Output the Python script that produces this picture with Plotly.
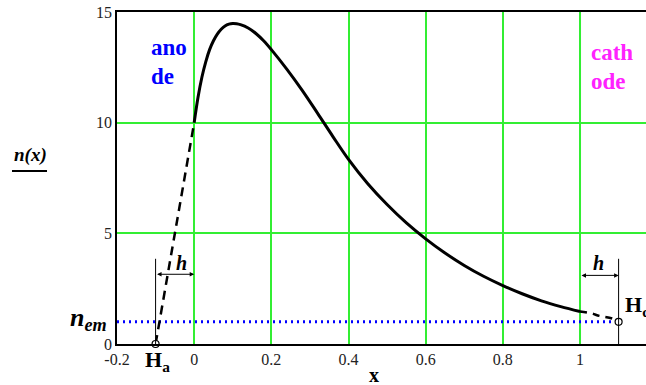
import plotly.graph_objects as go

# ---- data ----
curve_x = [0, 0.01, 0.02, 0.03, 0.04, 0.05, 0.06, 0.07, 0.08, 0.09, 0.1, 0.11, 0.12,
           0.14, 0.16, 0.18, 0.2, 0.24, 0.28, 0.32, 0.36, 0.4, 0.45, 0.5, 0.55, 0.6,
           0.65, 0.7, 0.75, 0.8, 0.85, 0.9, 0.95, 1.0]
curve_n = [10, 11.15, 12.05, 12.75, 13.3, 13.7, 14.0, 14.22, 14.37, 14.45, 14.48, 14.47,
           14.43, 14.28, 14.03, 13.7, 13.3, 12.42, 11.46, 10.42, 9.36, 8.34, 7.24, 6.3,
           5.47, 4.75, 4.11, 3.55, 3.06, 2.64, 2.27, 1.95, 1.69, 1.47]
left_ext_x = [-0.1, 0.0]
left_ext_n = [0.0, 10.0]
right_ext_x = [1.0, 1.03, 1.05, 1.083, 1.1]
right_ext_n = [1.47, 1.38, 1.27, 1.15, 1.0]
n_em = 1.0
h_points_x = [-0.1, 1.1]
h_points_n = [0.0, 1.0]
x_ticks = [-0.2, 0, 0.2, 0.4, 0.6, 0.8, 1]
x_ticktext = ["-0.2", "0", "0.2", "0.4", "0.6", "0.8", "1"]
y_ticks = [0, 5, 10, 15]
y_ticktext = ["0", "5", "10", "15"]

SERIF = "Liberation Serif, Times New Roman, serif"
GREEN = "#33ee33"

fig = go.Figure()

# emission level dotted line
fig.add_trace(go.Scatter(x=[-0.2, 1.1], y=[n_em, n_em], mode="lines",
                         line=dict(color="#0000ff", width=3, dash="2px,4px"),
                         hoverinfo="skip"))
# dashed extrapolations
fig.add_trace(go.Scatter(x=left_ext_x, y=left_ext_n, mode="lines",
                         line=dict(color="black", width=2.5, dash="9px,6px")))
fig.add_trace(go.Scatter(x=right_ext_x, y=right_ext_n, mode="lines", line_shape="spline",
                         line=dict(color="black", width=2.5, dash="7px,6px")))
# main curve
fig.add_trace(go.Scatter(x=curve_x, y=curve_n, mode="lines", line_shape="spline",
                         line=dict(color="black", width=3, smoothing=1)))
# endpoints
fig.add_trace(go.Scatter(x=h_points_x, y=h_points_n, mode="markers", cliponaxis=False,
                         marker=dict(symbol="circle", size=7, color="white",
                                     line=dict(color="black", width=1.2))))

shapes = [
    dict(type="line", xref="x", yref="y", x0=0, x1=0, y0=0, y1=15,
         line=dict(color="#0000ff", width=1.5), layer="below"),
    dict(type="line", xref="x", yref="y", x0=1, x1=1, y0=0, y1=15,
         line=dict(color="#ff44ff", width=2), layer="below"),
    dict(type="line", xref="x", yref="y", x0=-0.1, x1=-0.1, y0=0, y1=3.85,
         line=dict(color="black", width=1)),
    dict(type="line", xref="x", yref="y", x0=1.1, x1=1.1, y0=0, y1=3.85,
         line=dict(color="black", width=1)),
    dict(type="line", xref="paper", yref="paper", x0=-0.1985, x1=-0.1323,
         y0=0.521, y1=0.521, line=dict(color="black", width=2)),
]

ann = []
# double-headed h arrows
for xa, xb, yy in [(-0.1, 0.0, 3.15), (1.0, 1.1, 3.1)]:
    ann.append(dict(x=xb, y=yy, ax=xa, ay=yy, xref="x", yref="y", axref="x", ayref="y",
                    showarrow=True, arrowhead=2, startarrowhead=2, arrowside="end+start",
                    arrowsize=0.9, arrowwidth=1, arrowcolor="black", text=""))

def txt(x, y, s, size, color="black", xanchor="center", yanchor="middle", ref="x"):
    ann.append(dict(x=x, y=y, xref="x" if ref == "x" else "paper",
                    yref="y" if ref == "x" else "paper", text=s, showarrow=False,
                    xanchor=xanchor, yanchor=yanchor,
                    font=dict(family=SERIF, size=size, color=color)))

txt(-0.117, 13.38, "<b>ano</b>", 23, "#0000ff", xanchor="left")
txt(-0.117, 12.07, "<b>de</b>", 23, "#0000ff", xanchor="left")
txt(1.023, 13.15, "<b>cath</b>", 23, "#ff22ff", xanchor="left")
txt(1.023, 11.84, "<b>ode</b>", 23, "#ff22ff", xanchor="left")
txt(-0.034, 3.68, "<b><i>h</i></b>", 20)
txt(1.049, 3.65, "<b><i>h</i></b>", 20)
txt(1.111, 1.72, "<b>H<sub>c</sub></b>", 22, xanchor="left")
# labels outside the plotting area (paper coordinates)
txt(0.0775, -0.05, "<b>H<sub>a</sub></b>", 22, ref="paper")
txt(0.486, -0.094, "<b>x</b>", 20, ref="paper")
txt(-0.1626, 0.569, "<b><i>n(x)</i></b>", 19, ref="paper")
txt(-0.015, 0.075, "<b><i>n</i></b><sub><b><i>em</i></b></sub>", 26,
    xanchor="right", ref="paper")

fig.update_layout(
    width=646, height=385,
    margin=dict(l=117, r=0, t=12, b=41),
    paper_bgcolor="white", plot_bgcolor="white",
    showlegend=False,
    shapes=shapes, annotations=ann,
    font=dict(family=SERIF, size=15, color="#222"),
)
fig.update_xaxes(range=[-0.2, 1.171], tickvals=x_ticks, ticktext=x_ticktext,
                 showgrid=True, gridcolor=GREEN, gridwidth=1.5, zeroline=False,
                 showline=True, linecolor="black", linewidth=1.5, mirror=True,
                 ticks="", tickfont=dict(family=SERIF, size=16, color="#222"))
fig.update_yaxes(range=[0, 15], tickvals=y_ticks, ticktext=y_ticktext,
                 showgrid=True, gridcolor=GREEN, gridwidth=1.5, zeroline=False,
                 showline=True, linecolor="black", linewidth=1.5,
                 ticks="", tickfont=dict(family=SERIF, size=16, color="#222"))

fig.write_html("out.html")
